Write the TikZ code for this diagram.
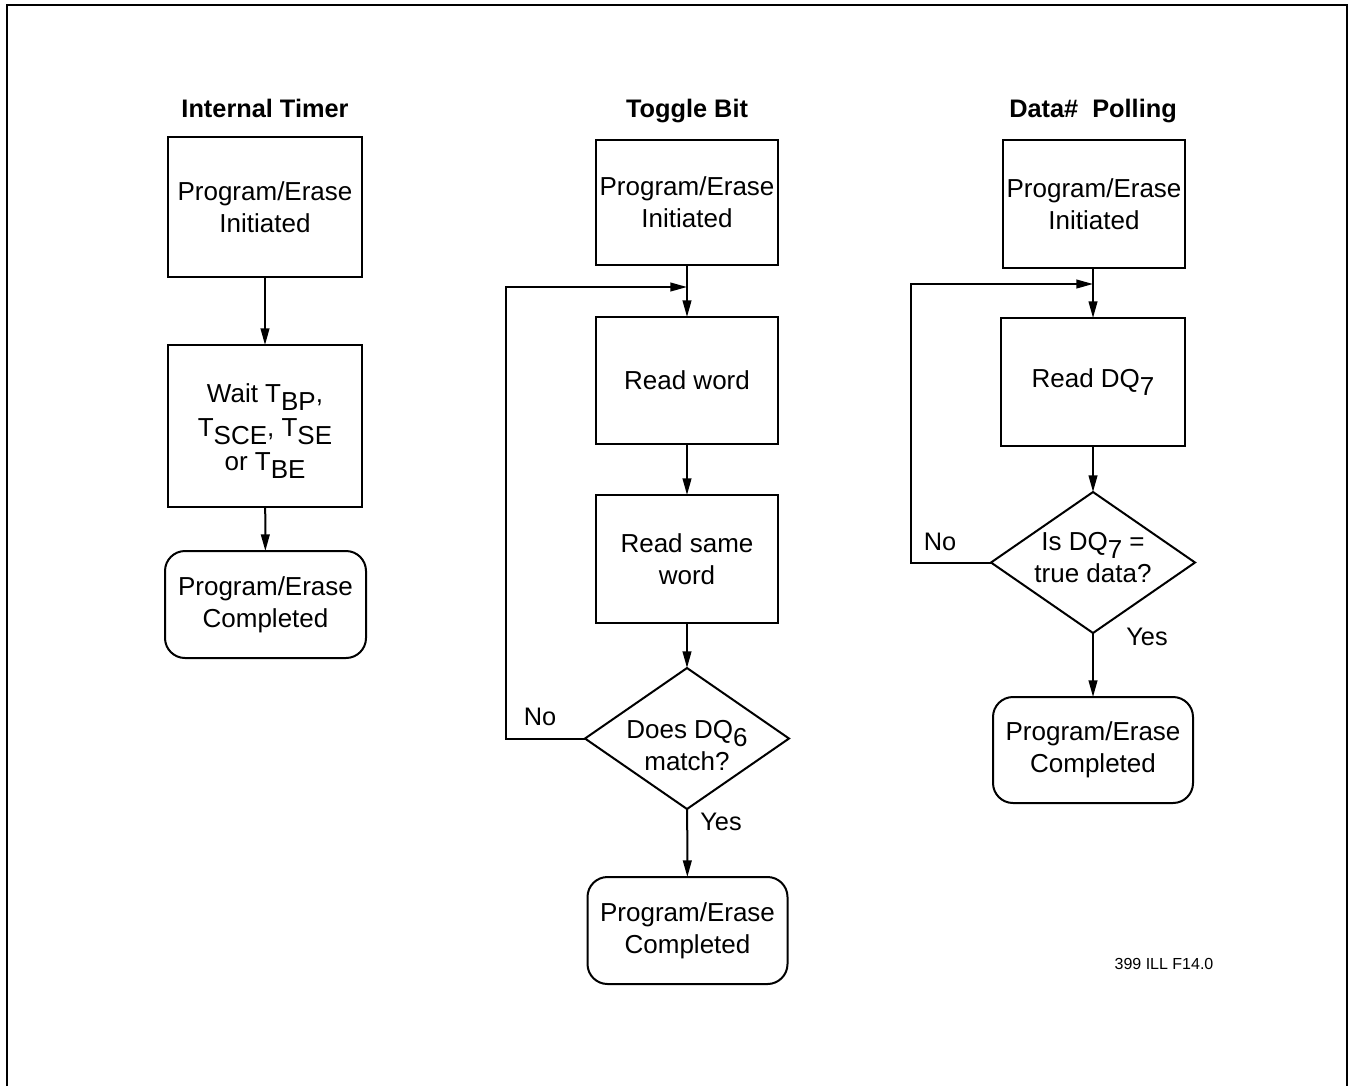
\documentclass[tikz,border=0pt]{standalone}
\usepackage{fontspec}
\setmainfont{Liberation Sans}
\usetikzlibrary{arrows.meta,shapes.geometric}
\def\px{0.75pt}
\newcommand{\sbx}[1]{\raisebox{-0.28em}{#1}}
\tikzset{
  ln/.style={line width=1.5pt},
  arr/.style={ln,-{Triangle[length=12.5pt,width=6.5pt]}},
  txt/.style={font=\fontsize{19.5}{24}\selectfont,align=center,inner sep=0pt},
  box/.style={draw,ln,outer sep=0pt,inner sep=0pt,align=center,font=\fontsize{19.5}{24}\selectfont},
  rbox/.style={box,rounded corners=15pt},
  dec/.style={draw,ln,diamond,outer sep=0pt,inner sep=0pt},
  ttl/.style={font=\bfseries\fontsize{19}{23}\selectfont,inner sep=0pt,anchor=base},
  lbl/.style={font=\fontsize{19}{23}\selectfont,inner sep=0pt}
}
\begin{document}
\begin{tikzpicture}[x=0.75pt,y=-0.75pt]
\useasboundingbox (0,0) rectangle (1351,1086);
\draw[line width=1.7pt] (7,1086) -- (7,5) -- (1347,5) -- (1347,1086);

% Column 1: Internal Timer
\node[ttl] (t1) at (265,117) {Internal Timer};
\node[box,minimum width=194*\px,minimum height=140*\px] (a1) at (265,207) {Program/Erase\\Initiated};
\node[box,minimum width=194*\px,minimum height=162*\px] (a2) at (265,426) {};
\node[txt,font=\fontsize{19.5}{25.5}\selectfont] (a2t) at (265,431) {Wait T\sbx{BP},\\T\sbx{SCE}, T\sbx{SE}\\or T\sbx{BE}};
\node[rbox,minimum width=201*\px,minimum height=107*\px] (a3) at (265.5,604.5) {Program/Erase\\Completed};
\draw[arr] (a1) -- (a2);
\draw[arr] (a2) -- (a3);

% Column 2: Toggle Bit
\node[ttl] (t2) at (687,117) {Toggle Bit};
\node[box,minimum width=182*\px,minimum height=125*\px] (b1) at (687,202.5) {Program/Erase\\Initiated};
\node[box,minimum width=182*\px,minimum height=127*\px] (b2) at (687,380.5) {Read word};
\node[box,minimum width=182*\px,minimum height=128*\px] (b3) at (687,559) {Read same\\word};
\node[dec,minimum width=204*\px,minimum height=141*\px] (b4) at (687,738.5) {};
\node[txt] (b4t) at (687,746) {Does DQ\sbx{6}\\match?};
\node[rbox,minimum width=200*\px,minimum height=107*\px] (b5) at (687.5,930.5) {Program/Erase\\Completed};
\coordinate (bj) at (687,287);
\draw[arr] (b1) -- (b2);
\draw[arr] (b2) -- (b3);
\draw[arr] (b3) -- (b4);
\draw[arr] (b4) -- (b5);
\draw[arr] (b4.west) -- ++(-79,0) |- (bj);
\node[lbl] (bno) at (540,717) {No};
\node[lbl] (byes) at (721,822) {Yes};

% Column 3: Data# Polling
\node[ttl] (t3) at (1093,117) {Data\#\ \ Polling};
\node[box,minimum width=182*\px,minimum height=128*\px] (c1) at (1094,204) {Program/Erase\\Initiated};
\node[box,minimum width=184*\px,minimum height=128*\px] (c2) at (1093,382) {Read DQ\sbx{7}};
\node[dec,minimum width=204*\px,minimum height=141*\px] (c3) at (1093,562.5) {};
\node[txt] (c3t) at (1093,558) {Is DQ\sbx{7} =\\true data?};
\node[rbox,minimum width=200*\px,minimum height=106*\px] (c4) at (1093,750) {Program/Erase\\Completed};
\coordinate (cj) at (1093,284);
\draw[arr] (c1.south -| c2.north) -- (c2);
\draw[arr] (c2) -- (c3);
\draw[arr] (c3) -- (c4);
\draw[arr] (c3.west) -- ++(-80,0) |- (cj);
\node[lbl] (cno) at (940,542) {No};
\node[lbl] (cyes) at (1147,637) {Yes};

\node[font=\fontsize{12}{14}\selectfont,inner sep=0pt] (ref) at (1164,964) {399 ILL F14.0};
\end{tikzpicture}
\end{document}
